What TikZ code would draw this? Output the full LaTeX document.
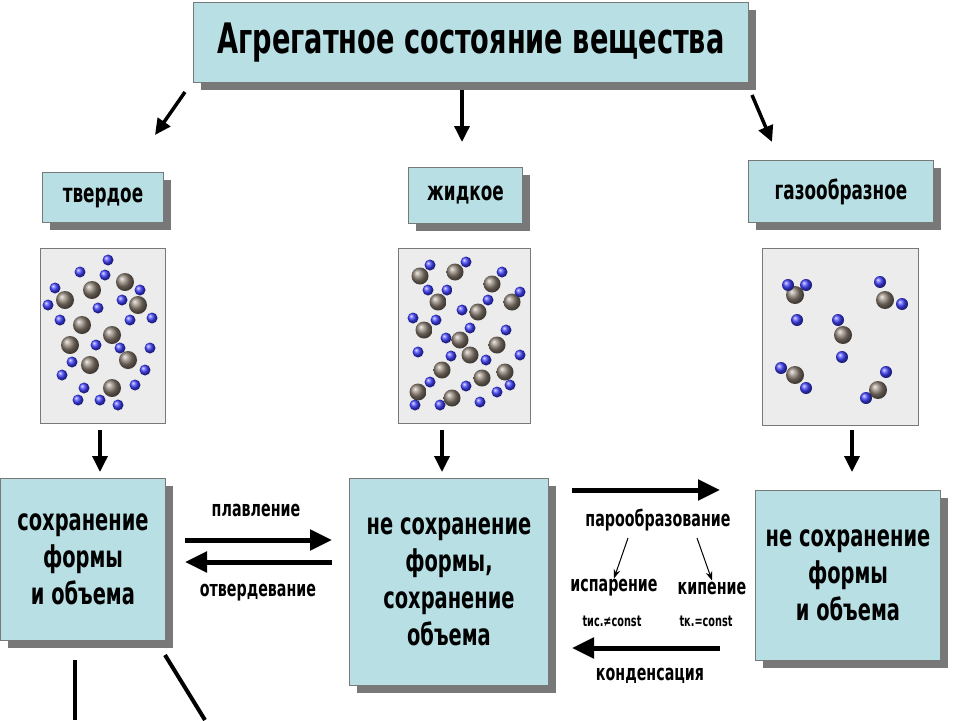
\documentclass[tikz,border=0pt]{standalone}
\usepackage{fontspec}
\setmainfont[FakeStretch=0.72]{DejaVu Sans Condensed}
\usetikzlibrary{arrows.meta}
\definecolor{boxfill}{RGB}{184,224,228}
\definecolor{shad}{RGB}{120,120,120}
\definecolor{imgbg}{RGB}{236,236,236}
\tikzset{
 bbox/.style={draw=shad,line width=1pt,fill=boxfill,align=center,inner sep=0pt},
 head/.style={font=\bfseries\fontsize{26}{30}\selectfont},
 big/.style={font=\bfseries\fontsize{30}{37}\selectfont,align=center},
 lbl/.style={font=\bfseries\fontsize{22}{26}\selectfont,inner sep=1pt},
 small/.style={font=\bfseries\fontsize{15}{18}\selectfont,inner sep=1pt},
 thick arr/.style={line width=5pt,-{Triangle[length=22pt,width=20pt]}},
 mid arr/.style={line width=3.5pt,-{Triangle[length=16pt,width=15pt]}},
 thin arr/.style={line width=1pt,-{Stealth[length=9pt]}},
 gball/.style={ball color=gray!80!brown,draw=none},
 bball/.style={ball color=blue!75,draw=none},
 plainline/.style={line width=4pt}
}
\newcommand{\shbox}[5]{%
 \fill[shad] (#2+8,#3+8) rectangle (#4+8,#5+8);
 \node[bbox,minimum width=#4-#2,minimum height=#5-#3,anchor=north west] (#1) at (#2,#3) {};
}
\begin{document}
\begin{tikzpicture}[x=1pt,y=-1pt]
\useasboundingbox (0,0) rectangle (960,720);
\fill[white] (0,0) rectangle (960,720);
% title
\shbox{title}{193}{2}{748}{82}
\node[font=\bfseries\fontsize{42}{46}\selectfont] at (title.center) {Агрегатное состояние вещества};
\shbox{solid}{42}{172}{163}{222}
\node[head] at (solid.center) {твердое};
\shbox{liquid}{408}{167}{522}{223}
\node[head] at (liquid.center) {жидкое};
\shbox{gas}{748}{160}{933}{222}
\node[head] at (gas.center) {газообразное};
% images
\node[draw=shad,fill=imgbg,minimum width=125,minimum height=175,anchor=north west,inner sep=0] (isolid) at (40,248) {};
\node[draw=shad,fill=imgbg,minimum width=132,minimum height=175,anchor=north west,inner sep=0] (iliquid) at (398,248) {};
\node[draw=shad,fill=imgbg,minimum width=156,minimum height=177,anchor=north west,inner sep=0] (igas) at (762,248) {};
% solid molecules
\foreach \x/\y in {65/300,92/290,125/282,82/325,112/335,138/305,90/365,128/360,112/388,70/345}
  \shade[gball] (\x,\y) circle (9);
\foreach \x/\y in {55/288,80/272,105/275,140/290,152/318,60/320,98/308,130/320,72/362,96/345,150/348,120/348,84/388,135/385,100/400,118/405,62/375,145/370,108/260,48/305,78/400,122/300}
  \shade[bball] (\x,\y) circle (5.5);
% liquid molecules
\foreach \x/\y in {420/276,455/272,492/284,438/302,478/312,512/302,424/330,460/340,497/345,442/370,482/378,418/392,452/398,505/372,470/355}
  \shade[gball] (\x,\y) circle (8.5);
\foreach \x/\y in {430/265,466/262,502/272,447/290,488/300,520/292,413/318,436/320,470/328,506/330,418/352,451/356,486/360,520/355,430/382,466/386,497/392,415/405,440/405,480/402,510/385,462/310,446/338,428/290}
  \shade[bball] (\x,\y) circle (5.5);
% gas molecules
\foreach \x/\y in {795/295,885/300,843/335,795/375,878/390}
  \shade[gball] (\x,\y) circle (9);
\foreach \x/\y in {788/285,806/285,797/320,880/282,902/304,838/320,842/357,781/368,806/388,866/398,886/372}
  \shade[bball] (\x,\y) circle (6);
% bottom boxes
\shbox{bsolid}{0}{478}{165}{640}
\node[big] at (bsolid.center) {сохранение\\формы\\и объема};
\shbox{bliquid}{349}{478}{548}{685}
\node[big] at (bliquid.center) {не сохранение\\формы,\\сохранение\\объема};
\shbox{bgas}{755}{490}{940}{660}
\node[big] at (bgas.center) {не сохранение\\формы\\и объема};
% arrows from title
\coordinate (t1) at (185,92); \coordinate (t2) at (462,90); \coordinate (t3) at (752,95);
\draw[mid arr] (t1) -- (155,135);
\draw[mid arr] (t2) -- (462,142);
\draw[mid arr] (t3) -- (772,142);
% image arrows
\draw[mid arr] (100,430) -- (100,472);
\draw[mid arr] (442,430) -- (442,472);
\draw[mid arr] (852,430) -- (852,472);
% melting
\coordinate (m1) at (185,540); \coordinate (m2) at (332,540);
\coordinate (s1) at (332,562); \coordinate (s2) at (185,562);
\draw[thick arr] (m1) -- (m2);
\draw[thick arr] (s1) -- (s2);
\node[lbl] (melt) at (256,510) {плавление};
\node[lbl] (solidify) at (258,593) {отвердевание};
% vaporization
\coordinate (v1) at (572,490); \coordinate (v2) at (720,490);
\coordinate (c1) at (720,648); \coordinate (c2) at (572,648);
\draw[thick arr] (v1) -- (v2);
\draw[thick arr] (c1) -- (c2);
\node[lbl] (vap) at (658,520) {парообразование};
\node[lbl] (evap) at (614,588) {испарение};
\node[lbl] (boil) at (712,588) {кипение};
\draw[thin arr] (628,538) -- (evap.north);
\draw[thin arr] (697,538) -- (boil.north);
\node[small] at (612,621) {tис.≠const};
\node[small] at (706,621) {tк.=const};
\node[lbl] (cond) at (650,676) {конденсация};
% bottom lines
\draw[plainline] (75,660) -- (75,720);
\draw[plainline] (165,655) -- (205,720);
\end{tikzpicture}
\end{document}
